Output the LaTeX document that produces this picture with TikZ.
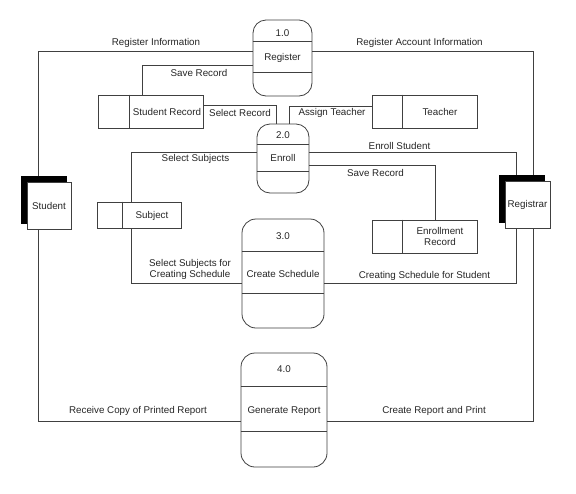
\documentclass[tikz,border=0pt]{standalone}
\usepackage{fontspec}
\setmainfont{Liberation Sans}
\begin{document}
\begin{tikzpicture}[x=1pt,y=-1pt,
  every node/.style={font=\fontsize{9.8}{11.5}\selectfont, inner sep=0pt, text=black!85},
  wire/.style={draw=black!75, line width=0.8pt},
  proc/.style={draw=black!75, line width=0.8pt, rounded corners=13pt, fill=white},
  store/.style={draw=black!75, line width=0.8pt, fill=white},
  shade/.style={fill=black, draw=black, line width=0.5pt},
  ent/.style={draw=black!75, line width=0.8pt, fill=white},
  lbl/.style={align=center}]
\useasboundingbox (0,0) rectangle (576,493);
\fill[white] (0,0) rectangle (576,493);

% processes
\node[proc, minimum width=59pt, minimum height=76pt] (p1) at (282.5,58) {};
\node[proc, minimum width=52pt, minimum height=69pt] (p2) at (283,158.5) {};
\node[proc, rounded corners=14pt, minimum width=82pt, minimum height=109pt] (p3) at (283,273.5) {};
\node[proc, rounded corners=14pt, minimum width=86pt, minimum height=114pt] (p4) at (284,410) {};
\draw[wire] ([yshift=-22pt]p1.north west) -- ([yshift=-22pt]p1.north east);
\draw[wire] ([yshift=-53pt]p1.north west) -- ([yshift=-53pt]p1.north east);
\draw[wire] ([yshift=-21pt]p2.north west) -- ([yshift=-21pt]p2.north east);
\draw[wire] ([yshift=-48pt]p2.north west) -- ([yshift=-48pt]p2.north east);
\draw[wire] ([yshift=-33pt]p3.north west) -- ([yshift=-33pt]p3.north east);
\draw[wire] ([yshift=-75pt]p3.north west) -- ([yshift=-75pt]p3.north east);
\draw[wire] ([yshift=-34pt]p4.north west) -- ([yshift=-34pt]p4.north east);
\draw[wire] ([yshift=-79pt]p4.north west) -- ([yshift=-79pt]p4.north east);
\node (n1) at (282.5,33) {1.0};
\node (t1) at (282.5,58) {Register};
\node (n2) at (283,135) {2.0};
\node (t2) at (283,158) {Enroll};
\node (n3) at (283,236) {3.0};
\node (t3) at (283,274) {Create Schedule};
\node (n4) at (284,369) {4.0};
\node (t4) at (284,411) {Generate Report};

% data stores
\node[store, minimum width=105pt, minimum height=33pt] (sr) at (150.5,111.5) {};
\node[store, minimum width=105pt, minimum height=33pt] (te) at (424.5,111.5) {};
\node[store, minimum width=84pt, minimum height=26pt] (su) at (139,215) {};
\node[store, minimum width=105pt, minimum height=33pt] (er) at (424.5,236.5) {};
\draw[wire] ([xshift=32pt]sr.north west) -- ([xshift=32pt]sr.south west);
\draw[wire] ([xshift=31pt]te.north west) -- ([xshift=31pt]te.south west);
\draw[wire] ([xshift=26pt]su.north west) -- ([xshift=26pt]su.south west);
\draw[wire] ([xshift=31pt]er.north west) -- ([xshift=31pt]er.south west);
\node (srt) at (167,112) {Student Record};
\node (tet) at (440,112) {Teacher};
\node (sut) at (152,216) {Subject};
\node[lbl] (ert) at (440,236.5) {Enrollment\\Record};

% external entities
\node[shade, minimum width=45pt, minimum height=47pt] (stuS) at (43.5,199.5) {};
\node[ent, minimum width=44pt, minimum height=47pt] (stu) at (49,205.5) {};
\node (stut) at (49,206) {Student};
\node[shade, minimum width=45pt, minimum height=47pt] (regS) at (521.5,198.5) {};
\node[ent, minimum width=45pt, minimum height=47pt] (reg) at (527.5,204.5) {};
\node (regt) at (527.5,205) {Registrar};

% corner coordinates
\coordinate (cA) at (38,51);
\coordinate (cB) at (533,51);
\coordinate (cC) at (142,65);
\coordinate (cD) at (276,105);
\coordinate (cE) at (289,106);
\coordinate (cF) at (131,152);
\coordinate (cG) at (131,283);
\coordinate (cH) at (516,152);
\coordinate (cI) at (435,165);
\coordinate (cJ) at (516,283);
\coordinate (cK) at (38,421);
\coordinate (cL) at (533,421);

% connectors
\draw[wire] (stuS.north -| cA) -- (cA) -- (p1.west |- cA);
\draw[wire] (p1.east |- cB) -- (cB) -- (regS.north -| cB);
\draw[wire] (p1.west |- cC) -- (cC) -- (sr.north -| cC);
\draw[wire] (sr.east |- cD) -- (cD) -- (p2.north -| cD);
\draw[wire] (te.west |- cE) -- (cE) -- (p2.north -| cE);
\draw[wire] (p2.west |- cF) -- (cF) -- (su.north -| cF);
\draw[wire] (su.south -| cG) -- (cG) -- (p3.west |- cG);
\draw[wire] (p2.east |- cH) -- (cH) -- (regS.north -| cH);
\draw[wire] (p2.east |- cI) -- (cI) -- (er.north -| cI);
\draw[wire] (p3.east |- cJ) -- (cJ) -- (reg.south -| cJ);
\draw[wire] (stu.south -| cK) -- (cK) -- (p4.west |- cK);
\draw[wire] (p4.east |- cL) -- (cL) -- (reg.south -| cL);

% flow labels
\node (l1) at (156,43) {Register Information};
\node (l2) at (419.5,43) {Register Account Information};
\node (l3) at (199,73) {Save Record};
\node (l4) at (240,113) {Select Record};
\node (l5) at (332,113) {Assign Teacher};
\node (l6) at (195.5,159) {Select Subjects};
\node[lbl] (l7) at (190,269.5) {Select Subjects for\\Creating Schedule};
\node (l8) at (399.5,146) {Enroll Student};
\node (l9) at (375.5,173) {Save Record};
\node (l10) at (424.5,276) {Creating Schedule for Student};
\node (l11) at (138,411) {Receive Copy of Printed Report};
\node (l12) at (434,411) {Create Report and Print};
\end{tikzpicture}
\end{document}
